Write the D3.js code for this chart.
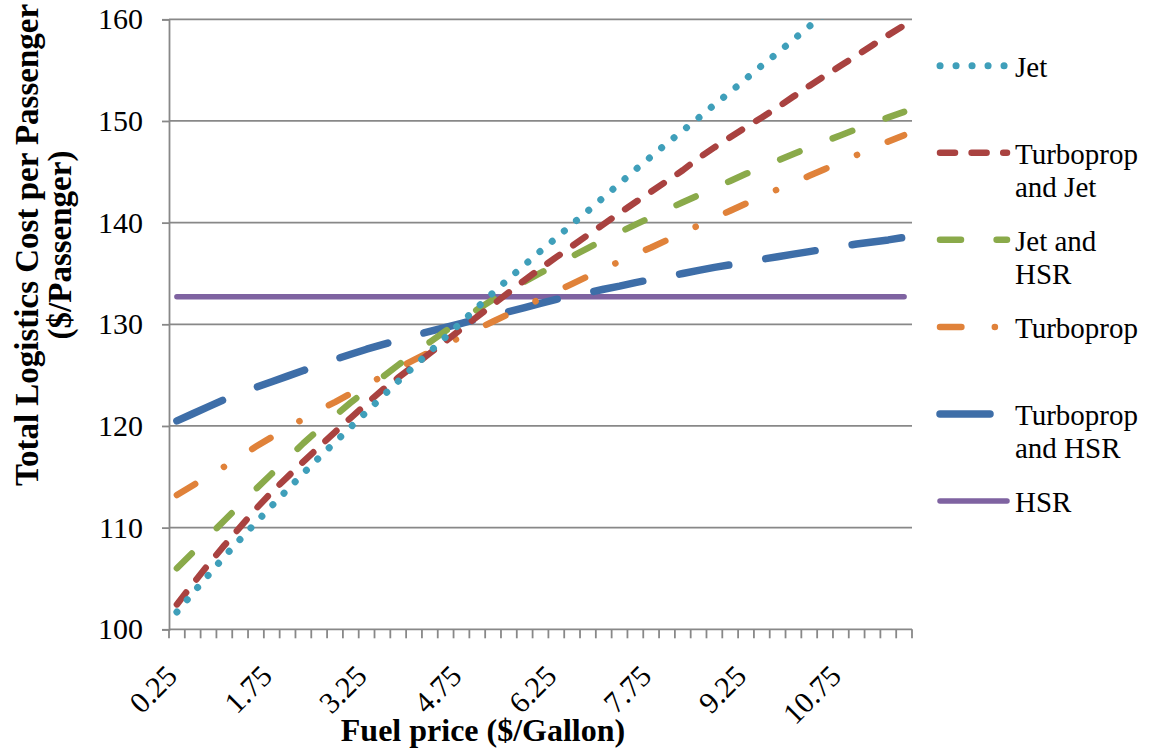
<!DOCTYPE html>
<html><head><meta charset="utf-8">
<script src="https://cdn.jsdelivr.net/npm/d3@7"></script>
<style>
body{margin:0;background:#fff}
svg{display:block}
text{font-family:"Liberation Serif","Times New Roman",serif;fill:#000}
</style>
</head><body>
<svg id="c" width="1151" height="753"></svg>
<script>
// ---------- data ----------
const fuelPrice = ["0.25","0.5","0.75","1","1.25","1.5","1.75","2","2.25","2.5","2.75","3","3.25","3.5","3.75","4","4.25","4.5","4.75","5","5.25","5.5","5.75","6","6.25","6.5","6.75","7","7.25","7.5","7.75","8","8.25","8.5","8.75","9","9.25","9.5","9.75","10","10.25","10.5","10.75","11","11.25","11.5","11.75"];
const xTickLabels = ["0.25","1.75","3.25","4.75","6.25","7.75","9.25","10.75"];
const yTicks = [100,110,120,130,140,150,160];

const jet = [101.7,103.55,105.35,107.15,108.85,110.5,112.15,113.75,115.35,116.9,118.4,119.9,121.4,122.9,124.4,125.85,127.3,128.75,130.2,131.65,133.1,134.5,135.85,137.2,138.5,139.85,141.15,142.5,143.85,145.2,146.5,147.8,149.05,150.3,151.6,152.85,154.15,155.45,156.7,158.0,159.3,160.55,161.85,163.1,164.4,165.65,166.9];
const turbopropJet = [102.45,104.45,106.4,108.25,110.05,111.85,113.5,115.0,116.5,117.95,119.4,120.8,122.2,123.55,124.75,125.95,127.15,128.35,129.55,130.75,131.95,133.15,134.35,135.5,136.6,137.7,138.8,139.85,140.95,142.0,143.05,144.1,145.15,146.35,147.4,148.4,149.4,150.35,151.35,152.4,153.45,154.45,155.45,156.45,157.45,158.45,159.4];
const jetHSR = [106.0,107.55,109.15,110.7,112.25,113.8,115.3,116.8,118.3,119.7,121.0,122.3,123.55,124.8,126.0,127.15,128.25,129.35,130.4,131.45,132.45,133.35,134.2,135.05,135.9,136.7,137.5,138.3,139.05,139.8,140.55,141.3,142.0,142.7,143.4,144.1,144.8,145.45,146.1,146.75,147.4,148.0,148.6,149.2,149.8,150.35,150.9];
const turboprop = [113.2,114.15,115.1,116.0,117.0,117.97,118.9,119.8,120.7,121.55,122.35,123.2,124.05,124.9,125.7,126.5,127.27,128.03,128.77,129.53,130.27,131.02,131.76,132.5,133.24,133.98,134.72,135.46,136.18,136.88,137.55,138.28,139.0,139.73,140.45,141.17,141.88,142.58,143.27,143.95,144.6,145.28,145.95,146.65,147.32,147.98,148.6];
const turbopropHSR = [120.5,121.2,121.9,122.6,123.2,123.8,124.35,124.9,125.45,126.0,126.55,127.05,127.55,128.0,128.45,128.9,129.3,129.7,130.1,130.5,130.9,131.25,131.65,132.05,132.45,132.8,133.1,133.45,133.75,134.1,134.4,134.7,135.0,135.3,135.6,135.85,136.1,136.4,136.65,136.9,137.15,137.4,137.65,137.9,138.1,138.3,138.55];
const hsr = [132.7,132.7,132.7,132.7,132.7,132.7,132.7,132.7,132.7,132.7,132.7,132.7,132.7,132.7,132.7,132.7,132.7,132.7,132.7,132.7,132.7,132.7,132.7,132.7,132.7,132.7,132.7,132.7,132.7,132.7,132.7,132.7,132.7,132.7,132.7,132.7,132.7,132.7,132.7,132.7,132.7,132.7,132.7,132.7,132.7,132.7,132.7];

const seriesNames = ["Jet","Turboprop\nand Jet","Jet and\nHSR","Turboprop","Turboprop\nand HSR","HSR"];
const seriesValues = [jet, turbopropJet, jetHSR, turboprop, turbopropHSR, hsr];
const seriesColors = ["#3f9fba","#a94240","#8aaa4a","#e0823a","#3e6ea8","#7f63a1"];
const seriesWidths = [7,6.5,6.5,6.5,7.5,5.5];
const seriesDash = ["0.1 15.9","15 16.6","21 35.6","21.4 33.4 0.1 33.4","50 37.5",null];

// ---------- layout ----------
const L = 169, R = 912, T = 19.3, B = 629.3;
const svg = d3.select("#c");
const x = d3.scaleBand().domain(fuelPrice).range([L, R]).padding(0);
const y = d3.scaleLinear().domain([100, 160]).range([B, T]);
const gridColor = "#888888";

// gridlines
svg.append("g").selectAll("line").data(yTicks.filter(d => d > 100)).join("line")
  .attr("x1", L).attr("x2", R).attr("y1", d => y(d)).attr("y2", d => y(d))
  .attr("stroke", gridColor).attr("stroke-width", 1.8);

// y axis
const yAxis = svg.append("g").attr("transform", `translate(${L},0)`)
  .call(d3.axisLeft(y).tickValues(yTicks).tickSize(7).tickPadding(19).tickFormat(d3.format("d")));
yAxis.select(".domain").attr("stroke", gridColor).attr("stroke-width", 1.8);
yAxis.selectAll(".tick line").attr("stroke", gridColor).attr("stroke-width", 1.8);
yAxis.selectAll(".tick text").attr("font-family", "Liberation Serif").attr("font-size", 30).attr("fill", "#000");

// x axis
svg.append("line").attr("x1", L).attr("x2", R).attr("y1", B).attr("y2", B)
  .attr("stroke", gridColor).attr("stroke-width", 1.8);
const boundaries = fuelPrice.map(c => x(c)).concat([x(fuelPrice[fuelPrice.length - 1]) + x.bandwidth()]);
svg.append("g").selectAll("line").data(boundaries).join("line")
  .attr("x1", d => d).attr("x2", d => d).attr("y1", B).attr("y2", B + 9)
  .attr("stroke", gridColor).attr("stroke-width", 1.8);
svg.append("g").selectAll("text").data(xTickLabels).join("text")
  .attr("transform", d => `translate(${x(d) + x.bandwidth() / 2 + 2},678) rotate(-45)`)
  .attr("text-anchor", "end").attr("font-size", 30).text(d => d);

// clip
svg.append("clipPath").attr("id", "plotclip").append("rect")
  .attr("x", L - 10).attr("y", T).attr("width", R - L + 20).attr("height", B - T + 10);

// series
const line = d3.line().x((v, i) => x(fuelPrice[i]) + x.bandwidth() / 2).y(v => y(v));
const drawOrder = [5, 4, 3, 2, 1, 0];
const gS = svg.append("g").attr("clip-path", "url(#plotclip)");
drawOrder.forEach(k => {
  gS.append("path").attr("d", line(seriesValues[k]))
    .attr("fill", "none").attr("stroke", seriesColors[k])
    .attr("stroke-width", seriesWidths[k])
    .attr("stroke-linecap", "round").attr("stroke-linejoin", "round")
    .attr("stroke-dasharray", seriesDash[k]);
});

// legend
const legTop = 65.7, legStep = 87.07;
seriesNames.forEach((name, k) => {
  const ly = legTop + k * legStep;
  svg.append("line").attr("x1", 940).attr("x2", 1007).attr("y1", ly).attr("y2", ly)
    .attr("stroke", seriesColors[k]).attr("stroke-width", seriesWidths[k])
    .attr("stroke-linecap", "round").attr("stroke-dasharray", seriesDash[k]);
  const t = svg.append("text").attr("x", 1015).attr("y", ly + 11).attr("font-size", 29);
  name.split("\n").forEach((s, j) => {
    t.append("tspan").attr("x", 1015).attr("dy", j === 0 ? 0 : 33.5).text(s);
  });
});

// axis titles
svg.append("text").attr("x", 483).attr("y", 741).attr("text-anchor", "middle")
  .attr("font-size", 32).attr("font-weight", "bold").text("Fuel price ($/Gallon)");
const yt = svg.append("text").attr("transform", "translate(38,245) rotate(-90)")
  .attr("text-anchor", "middle").attr("font-size", 33).attr("font-weight", "bold");
yt.append("tspan").attr("x", 0).attr("dy", 0).text("Total Logistics Cost per Passenger");
yt.append("tspan").attr("x", 0).attr("dy", 33).text("($/Passenger)");
</script>
</body></html>
